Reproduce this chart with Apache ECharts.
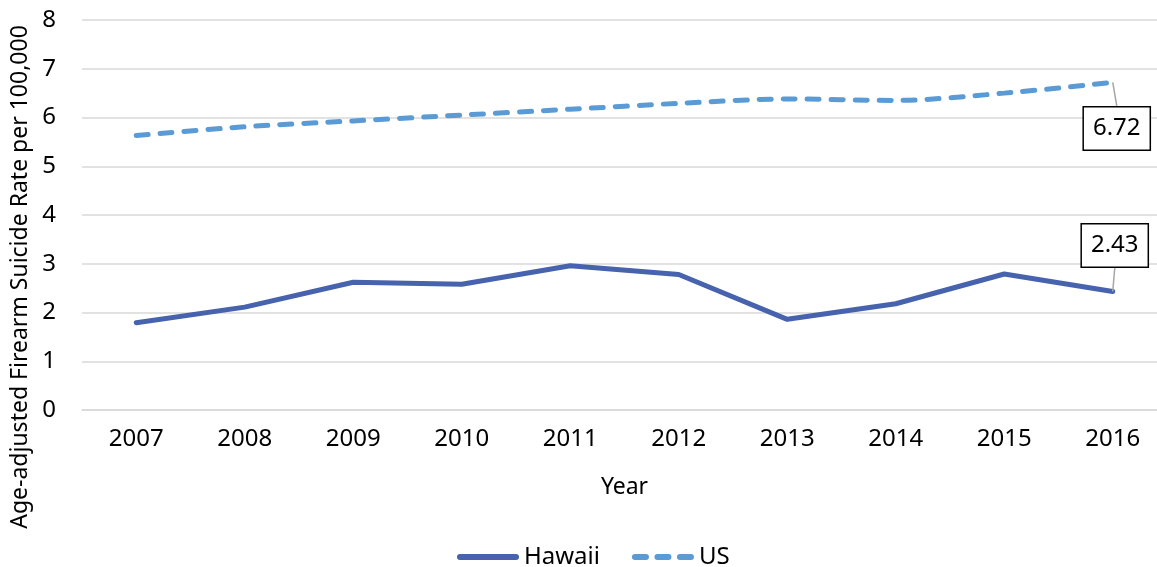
<!DOCTYPE html>
<html>
<head>
<meta charset="utf-8">
<script src="https://cdn.jsdelivr.net/npm/echarts@6/dist/echarts.min.js"></script>
<style>html,body{margin:0;padding:0;background:#fff}#c{width:1157px;height:567px}</style>
</head>
<body>
<div id="c"></div>
<script>
var years = ['2007','2008','2009','2010','2011','2012','2013','2014','2015','2016'];
var hawaii = [1.79, 2.11, 2.62, 2.58, 2.96, 2.78, 1.86, 2.18, 2.79, 2.43];
var us = [5.63, 5.81, 5.93, 6.05, 6.17, 6.29, 6.38, 6.35, 6.50, 6.72];
var yTicks = [0, 1, 2, 3, 4, 5, 6, 7, 8];
var yTitle = 'Age-adjusted Firearm Suicide Rate per 100,000';
var xTitle = 'Year';

var FONT = 'Noto Sans';
var chart = echarts.init(document.getElementById('c'), null, {renderer: 'canvas'});
var last = years.length - 1;
var boxLabel = {
  show: true,
  formatter: function (p) { return p.value.toFixed(2); },
  position: 'inside',
  color: '#000',
  fontFamily: FONT,
  fontSize: 24,
  lineHeight: 32,
  backgroundColor: '#fff',
  borderColor: '#000',
  borderWidth: 1.5,
  padding: [5, 9, 5, 9]
};
function withLastLabel(arr) {
  return arr.map(function (v, i) {
    if (i !== last) return v;
    return {
      value: v,
      symbol: 'circle',
      symbolSize: 0.1,
      label: boxLabel,
      labelLine: {show: true, lineStyle: {color: '#a6a6a6', width: 1.5}}
    };
  });
}
chart.setOption({
  animation: false,
  textStyle: {fontFamily: FONT},
  grid: {left: 82, width: 1085, top: 20, bottom: 157, containLabel: false, outerBoundsMode: 'none'},
  xAxis: {
    type: 'category',
    data: years,
    boundaryGap: true,
    axisLine: {show: true, lineStyle: {color: '#d9d9d9', width: 1.5}},
    axisTick: {show: false},
    axisLabel: {color: '#000', fontSize: 24, fontFamily: FONT, margin: 17},
    name: xTitle,
    nameLocation: 'middle',
    nameGap: 66,
    nameTextStyle: {color: '#000', fontSize: 23, fontFamily: FONT}
  },
  yAxis: {
    type: 'value',
    min: yTicks[0],
    max: yTicks[yTicks.length - 1],
    interval: 1,
    axisLine: {show: false},
    axisTick: {show: false},
    splitLine: {lineStyle: {color: '#d9d9d9', width: 1.5}},
    axisLabel: {color: '#000', fontSize: 24, fontFamily: FONT, margin: 26}
  },
  graphic: [{
    type: 'text',
    x: 20, y: 277,
    rotation: Math.PI / 2,
    style: {text: yTitle, fill: '#000', font: '23px "' + FONT + '"', align: 'center', verticalAlign: 'middle'}
  }],
  legend: {
    top: 540,
    left: 452,
    itemWidth: 62,
    itemHeight: 6,
    itemGap: 32,
    textStyle: {color: '#000', fontSize: 24, fontFamily: FONT},
    data: [
      {name: 'Hawaii', icon: 'path://M3,0 L59,0 A3,3 0 0 1 59,6 L3,6 A3,3 0 0 1 3,0 Z'},
      {name: 'US', icon: 'path://M3,0h11a3,3 0 0 1 0,6h-11a3,3 0 0 1 0,-6z M25.5,0h11a3,3 0 0 1 0,6h-11a3,3 0 0 1 0,-6z M48,0h11a3,3 0 0 1 0,6h-11a3,3 0 0 1 0,-6z'}
    ]
  },
  series: [
    {
      name: 'Hawaii', type: 'line', data: withLastLabel(hawaii),
      showSymbol: true, symbol: 'none',
      lineStyle: {color: '#4763AE', width: 5, cap: 'round', join: 'round'},
      itemStyle: {color: '#4763AE'},
      labelLayout: {dx: 2, dy: -46},
      z: 3
    },
    {
      name: 'US', type: 'line', data: withLastLabel(us), smooth: 0.3,
      showSymbol: true, symbol: 'none',
      lineStyle: {color: '#5B9BD5', width: 5, type: [12, 12], cap: 'round'},
      itemStyle: {color: '#5B9BD5'},
      labelLayout: {dx: 4, dy: 46},
      z: 2
    }
  ]
});
</script>
</body>
</html>
